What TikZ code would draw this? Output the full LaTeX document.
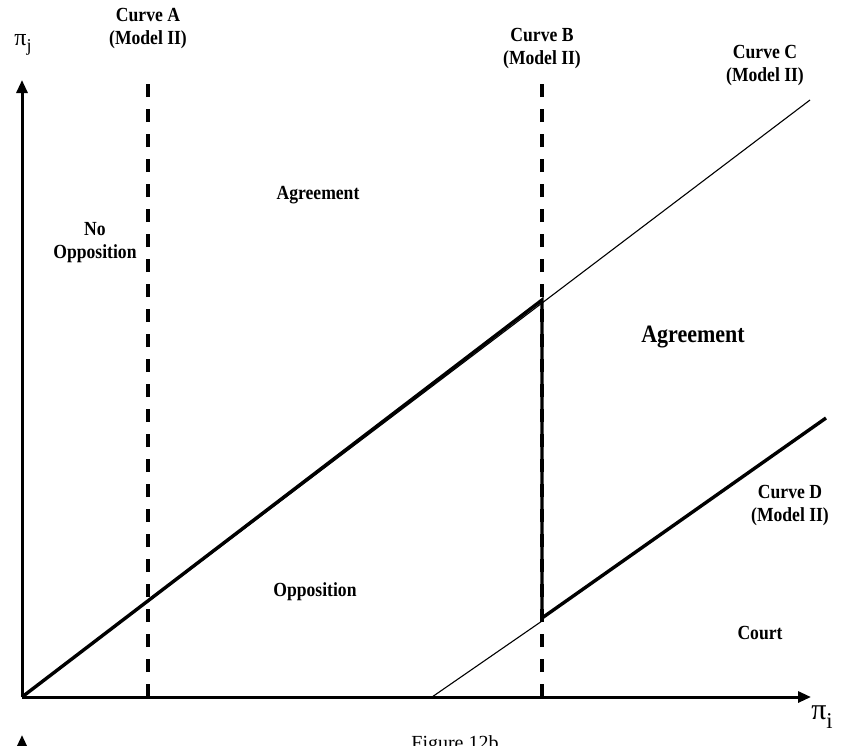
\documentclass[tikz,border=0pt]{standalone}
\usepackage{fontspec}
\setmainfont{Liberation Serif}
\newfontfamily\labfont[FakeStretch=0.88]{Liberation Serif}
\usetikzlibrary{arrows.meta}
\newcommand{\lowsub}[1]{\raisebox{-0.28em}{\fontsize{0.75em}{0.8em}\selectfont #1}}
\begin{document}
\begin{tikzpicture}[x=1pt,y=-1pt,
  axis/.style={line width=3pt,-{Triangle[length=13pt,width=11pt]}},
  thick curve/.style={line width=3.4pt},
  thin curve/.style={line width=1.1pt},
  dashcurve/.style={line width=3.2pt,dash pattern=on 13pt off 12pt},
  lab/.style={font=\labfont\bfseries\fontsize{20}{23}\selectfont,align=center,inner sep=0pt},
  biglab/.style={font=\labfont\bfseries\fontsize{25}{28}\selectfont,inner sep=0pt}]
\useasboundingbox (0,0) rectangle (842,745);

% key points of the diagram
\coordinate (O) at (22,697);
\coordinate (ytop) at (22,80);
\coordinate (xend) at (811,697);
\coordinate (Abot) at (148,697);
\coordinate (Atop) at (148,80);
\coordinate (Bbot) at (542,697);
\coordinate (Btop) at (542,82);
\coordinate (Bhi) at (542,300);
\coordinate (Blo) at (542,618);
\coordinate (Cend) at (810,100);
\coordinate (Dend) at (826,418);
\coordinate (Dstart) at (432,697);
\coordinate (Dmeet) at (542,621);

% axes
\draw[axis] (O) -- (ytop);
\draw[axis] (O) -- (xend);
\node[font=\fontsize{24}{26}\selectfont,inner sep=0pt] (pij) at (23,45) {π\lowsub{j}};
\node[font=\fontsize{30}{32}\selectfont,inner sep=0pt] (pii) at (822,717) {π\lowsub{i}};

% Curve C and its lower parallel
\draw[thin curve] (O) -- (Cend);
\draw[thin curve] (Dstart) -- (Dmeet);

% dashed curves A and B
\draw[dashcurve] (Abot) -- (Atop);
\draw[dashcurve] (Bbot) -- (Btop);

% boundary of the opposition region and Curve D
\draw[thick curve,line join=miter] (O) -- (Bhi) -- (Blo) -- (Dend);

% curve labels
\node[lab] (labA) at (148,29) {Curve A\\(Model II)};
\node[lab] (labB) at (542,49) {Curve B\\(Model II)};
\node[lab] (labC) at (765,66) {Curve C\\(Model II)};
\node[lab] (labD) at (790,505) {Curve D\\(Model II)};

% region labels
\node[lab] (agr1) at (318,195) {Agreement};
\node[lab] (noopp) at (95,243) {No\\Opposition};
\node[biglab] (agr2) at (693,337) {Agreement};
\node[lab] (opp) at (315,592) {Opposition};
\node[lab] (court) at (760,633) {Court};

% caption and the next figure's axis, both cut by the page edge
\node[font=\fontsize{20}{22}\selectfont,anchor=base,inner sep=0pt] (cap) at (455,749) {Figure 12b};
\coordinate (nextbot) at (22,775);
\coordinate (nexttop) at (22,735);
\draw[axis] (nextbot) -- (nexttop);
\end{tikzpicture}
\end{document}
